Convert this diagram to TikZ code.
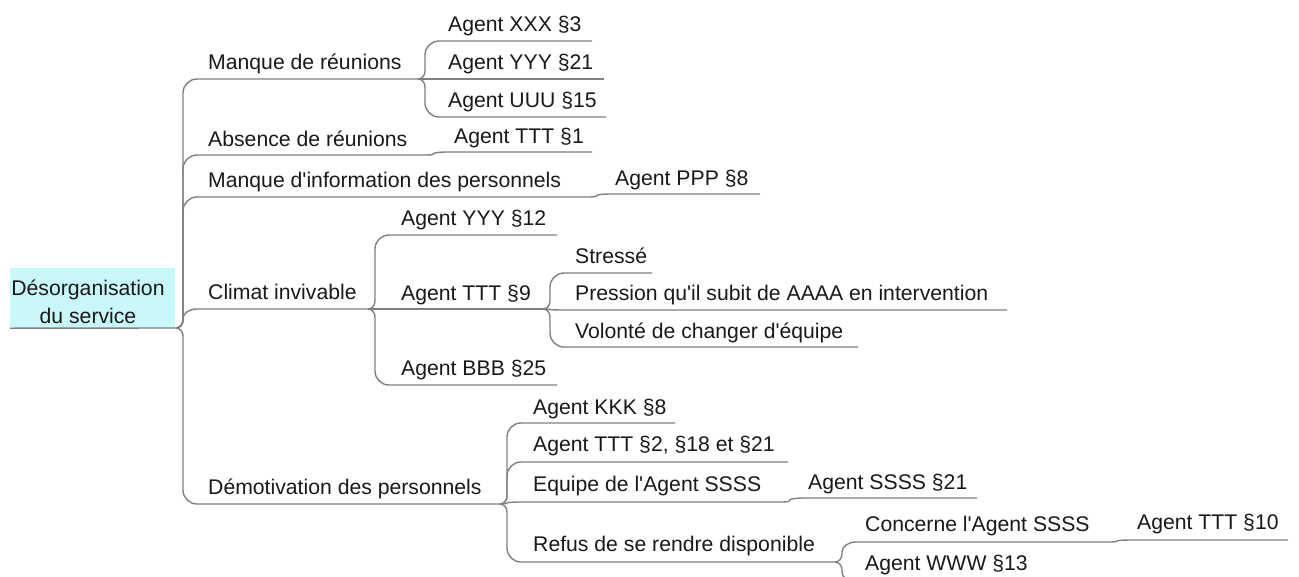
\documentclass[tikz,border=0pt]{standalone}
\usepackage{fontspec}
\setmainfont{Liberation Sans}
\usetikzlibrary{calc}
\definecolor{linegray}{RGB}{128,128,128}
\definecolor{rootcyan}{RGB}{200,248,250}
\definecolor{txt}{RGB}{25,25,25}
\begin{document}
\begin{tikzpicture}[x=1pt,y=-1pt,
  lbl/.style={anchor=base west, inner sep=0pt, text=txt, font=\fontsize{21.2}{24}\selectfont},
  conn/.style={draw=linegray, line width=1.4pt},
  branch/.style={to path={let \p1=(\tikztostart), \p2=(\tikztotarget),
      \n1={ifthenelse(\y2>\y1,1,-1)}, \n2={min(8,abs(\y2-\y1)/2)}, \n3={min(14,abs(\y2-\y1)/2)} in
      (\p1) .. controls ({\x1+3.9pt},\y1) and ({\x1+7pt},{\y1+\n1*\n2*0.448pt}) .. ({\x1+7pt},{\y1+\n1*\n2*1pt})
      -- ({\x1+7pt},{\y2-\n1*\n3*1pt}) .. controls ({\x1+7pt},{\y2-\n1*\n3*0.448pt}) and ({\x1+13.3pt},\y2) .. ({\x1+21pt},\y2) -- (\p2)}},
  rootbox/.style={fill=rootcyan, minimum width=165pt, minimum height=60pt, inner sep=0pt},
  roottext/.style={align=center, text=txt, font=\fontsize{21.2}{28}\selectfont, inner sep=0pt}]
\useasboundingbox (0,0) rectangle (1299,576);
\clip (0,0) rectangle (1299,576);

% root
\node[rootbox] (root) at (92.5,298) {};
\node[roottext] (rt) at (88,302) {Désorganisation\\du service};
\coordinate (o) at (176,328);
\draw[conn] (root.south west) -- (o);

% level 1
\coordinate (manque) at (418,79);  \node[lbl] (t-manque) at (208,69) {Manque de réunions};
\coordinate (absence) at (427,155); \node[lbl] (t-absence) at (208,146) {Absence de réunions};
\coordinate (info) at (590,197);   \node[lbl] (t-info) at (208,187) {Manque d\textquotesingle information des personnels};
\coordinate (climat) at (368,309); \node[lbl] (t-climat) at (208,299) {Climat invivable};
\coordinate (demot) at (500,504);  \node[lbl] (t-demot) at (208,494) {Démotivation des personnels};

% level 2
\coordinate (xxx) at (592,41);    \node[lbl] (t-xxx) at (448,31) {Agent XXX §3};
\coordinate (yyy21) at (604,79);  \node[lbl] (t-yyy21) at (448,69) {Agent YYY §21};
\coordinate (uuu) at (606,117);   \node[lbl] (t-uuu) at (448,107) {Agent UUU §15};
\coordinate (ttt1) at (592,152);  \node[lbl] (t-ttt1) at (454,143) {Agent TTT §1};
\coordinate (ppp) at (760,194);   \node[lbl] (t-ppp) at (615,185) {Agent PPP §8};
\coordinate (yyy12) at (557,235); \node[lbl] (t-yyy12) at (401,225) {Agent YYY §12};
\coordinate (ttt9) at (543,309);  \node[lbl] (t-ttt9) at (401,300) {Agent TTT §9};
\coordinate (bbb) at (557,385);   \node[lbl] (t-bbb) at (401,375) {Agent BBB §25};
\coordinate (kkk) at (675,423);   \node[lbl] (t-kkk) at (533,414) {Agent KKK §8};
\coordinate (ttt2) at (788,462);  \node[lbl] (t-ttt2) at (533,451) {Agent TTT §2, §18 et §21};
\coordinate (equipe) at (783,502); \node[lbl] (t-equipe) at (533,491) {Equipe de l\textquotesingle Agent SSSS};
\coordinate (refus) at (835,562); \node[lbl] (t-refus) at (533,551) {Refus de se rendre disponible};

% level 3
\coordinate (stresse) at (652,273);  \node[lbl] (t-stresse) at (575,263) {Stressé};
\coordinate (pression) at (1007,310); \node[lbl] (t-pression) at (575,300) {Pression qu\textquotesingle il subit de AAAA en intervention};
\coordinate (volonte) at (858,347);  \node[lbl] (t-volonte) at (575,338) {Volonté de changer d\textquotesingle équipe};
\coordinate (ssss) at (977,498);     \node[lbl] (t-ssss) at (808,489) {Agent SSSS §21};
\coordinate (concerne) at (1110,542); \node[lbl] (t-concerne) at (865,531) {Concerne l\textquotesingle Agent SSSS};
\coordinate (www) at (1010,582);     \node[lbl] (t-www) at (865,570) {Agent WWW §13};
\coordinate (ttt10) at (1288,540);   \node[lbl] (t-ttt10) at (1137,529) {Agent TTT §10};

% connectors
\draw[conn] (o) to[branch] (manque);
\draw[conn] (o) to[branch] (absence);
\draw[conn] (o) to[branch] (info);
\draw[conn] (o) to[branch] (climat);
\draw[conn] (o) to[branch] (demot);

\draw[conn] (manque) to[branch] (xxx);
\draw[conn] (manque) to[branch] (yyy21);
\draw[conn] (manque) to[branch] (uuu);
\draw[conn] (absence) to[branch] (ttt1);
\draw[conn] (info) to[branch] (ppp);
\draw[conn] (climat) to[branch] (yyy12);
\draw[conn] (climat) to[branch] (ttt9);
\draw[conn] (climat) to[branch] (bbb);
\draw[conn] (ttt9) to[branch] (stresse);
\draw[conn] (ttt9) to[branch] (pression);
\draw[conn] (ttt9) to[branch] (volonte);
\draw[conn] (demot) to[branch] (kkk);
\draw[conn] (demot) to[branch] (ttt2);
\draw[conn] (demot) to[branch] (equipe);
\draw[conn] (demot) to[branch] (refus);
\draw[conn] (equipe) to[branch] (ssss);
\draw[conn] (refus) to[branch] (concerne);
\draw[conn] (refus) to[branch] (www);
\draw[conn] (concerne) to[branch] (ttt10);
\end{tikzpicture}
\end{document}
